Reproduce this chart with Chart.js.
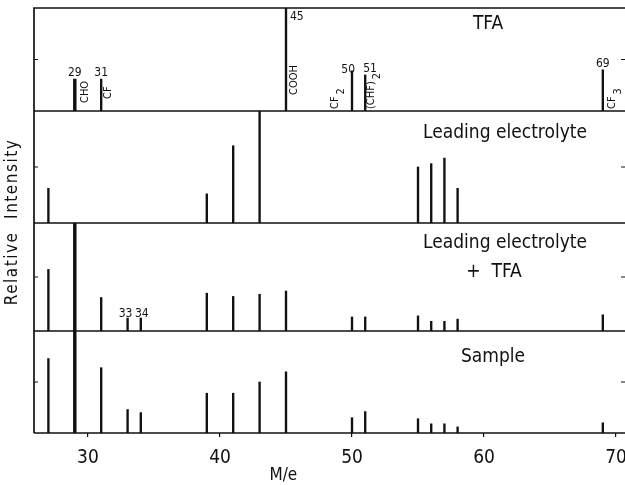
<!DOCTYPE html>
<html>
<head>
<meta charset="utf-8">
<script src="https://cdn.jsdelivr.net/npm/chart.js@4"></script>
<style>
  html, body { margin: 0; padding: 0; background: #fff; }
  #wrap { width: 625px; height: 485px; position: relative; }
</style>
</head>
<body>
<div id="wrap"><canvas id="ms"></canvas></div>
<script>
// m/e positions and relative intensities (0-100) per spectrum
const tfaMz = [29, 31, 45, 50, 51, 69];
const tfaInt = [31, 31, 100, 39, 35, 40];

const leadMz = [27, 39, 41, 43, 55, 56, 57, 58];
const leadInt = [31, 26, 69, 100, 50, 53, 58, 31];

const mixMz = [27, 29, 31, 33, 34, 39, 41, 43, 45, 50, 51, 55, 56, 57, 58, 69];
const mixInt = [57, 100, 31, 12, 12, 35, 32, 34, 37, 13, 13, 14, 9, 9, 11, 15];

const sampleMz = [27, 29, 31, 33, 34, 39, 41, 43, 45, 50, 51, 55, 56, 57, 58, 69];
const sampleInt = [73, 100, 64, 23, 20, 39, 39, 50, 60, 15, 21, 14, 9, 9, 6, 10];

const xTicks = [30, 40, 50, 60, 70];
const panelNames = ['TFA', 'Leading electrolyte', 'Leading electrolyte\n+  TFA', 'Sample'];

const ink = '#111';
const narrow = "'Liberation Sans Narrow', 'DejaVu Sans Condensed', sans-serif";

function peaks(mz, val, keep) {
    const out = [];
    mz.forEach((m, i) => { if (keep(m)) out.push({ x: m, y: val[i] }); });
    return out;
}

function panelSets(mz, val, axis) {
    return [{
        data: peaks(mz, val, m => m !== 29),
        yAxisID: axis,
        backgroundColor: ink,
        barThickness: 1.7,
        grouped: false
    }, {
        data: peaks(mz, val, m => m === 29),
        yAxisID: axis,
        backgroundColor: ink,
        barThickness: 2.8,
        grouped: false
    }];
}

function panelAxis(weight) {
    return {
        type: 'linear',
        position: 'left',
        stack: 'panels',
        stackWeight: weight,
        min: 0,
        max: 100,
        ticks: { display: false },
        grid: { display: false },
        border: { display: false },
        afterFit: s => { s.width = 0; }
    };
}

// frame, panel labels, peak annotations
const annotate = {
    id: 'annotate',
    afterDraw(chart) {
        const ctx = chart.ctx;
        const xs = chart.scales.x;
        const area = chart.chartArea;
        const axes = ['yTfa', 'yLead', 'yMix', 'ySample'].map(id => chart.scales[id]);
        ctx.save();
        ctx.strokeStyle = ink;
        ctx.fillStyle = ink;

        // frame
        ctx.lineWidth = 1.7;
        ctx.beginPath();
        ctx.moveTo(area.right, area.top);
        ctx.lineTo(area.left, area.top);
        ctx.lineTo(area.left, area.bottom);
        axes.forEach(a => {
            const y0 = a.getPixelForValue(0);
            ctx.moveTo(area.left, y0);
            ctx.lineTo(area.right, y0);
        });
        ctx.stroke();

        // mid ticks on both sides
        ctx.lineWidth = 1.2;
        ctx.beginPath();
        axes.forEach(a => {
            const ym = a.getPixelForValue(50);
            ctx.moveTo(area.left, ym);
            ctx.lineTo(area.left + 4, ym);
            ctx.moveTo(area.right, ym);
            ctx.lineTo(area.right - 4, ym);
        });
        ctx.stroke();

        // panel names
        ctx.font = '19px ' + narrow;
        ctx.textAlign = 'center';
        ctx.textBaseline = 'middle';
        const nameX = [488, 505, 505, 493];
        const nameDy = [16, 22, 20, 26];
        axes.forEach((a, i) => {
            const lines = panelNames[i].split('\n');
            lines.forEach((t, k) => {
                const cx = k === 0 ? nameX[i] : 494;
                ctx.fillText(t, cx, a.top + nameDy[i] + k * 29);
            });
        });

        // m/e numbers above TFA peaks
        const yT = axes[0];
        ctx.font = '12px ' + narrow;
        ctx.textBaseline = 'alphabetic';
        tfaMz.forEach((m, i) => {
            const px = xs.getPixelForValue(m);
            const top = yT.getPixelForValue(tfaInt[i]);
            if (m === 45) {
                ctx.textAlign = 'left';
                ctx.fillText(String(m), px + 4, top + 12);
            } else if (m === 50) {
                ctx.textAlign = 'right';
                ctx.fillText(String(m), px + 3, top + 2);
            } else if (m === 51) {
                ctx.textAlign = 'left';
                ctx.fillText(String(m), px - 2, top - 3);
            } else {
                ctx.textAlign = 'center';
                ctx.fillText(String(m), px, top - 3);
            }
        });

        // m/e numbers for the small 33/34 peaks
        const yM = axes[2];
        ctx.textAlign = 'center';
        ctx.fillText('33', xs.getPixelForValue(33) - 2, yM.getPixelForValue(12) - 1);
        ctx.fillText('34', xs.getPixelForValue(34) + 1, yM.getPixelForValue(12) - 1);

        // fragment formulas, rotated
        const base = yT.getPixelForValue(0);
        const frags = [
            { m: 29, dx: 10, main: 'CHO', sub: '', b: 8 },
            { m: 31, dx: 7, main: 'CF', sub: '', b: 12 },
            { m: 45, dx: 8, main: 'COOH', sub: '', b: 16 },
            { m: 50, dx: -17, main: 'CF', sub: '2', b: 2 },
            { m: 51, dx: 6, main: '(CHF)', sub: '2', b: 2 },
            { m: 69, dx: 9, main: 'CF', sub: '3', b: 2 }
        ];
        ctx.font = '11px ' + narrow;
        frags.forEach(f => {
            const px = xs.getPixelForValue(f.m) + f.dx;
            ctx.save();
            ctx.translate(px, base - f.b);
            ctx.rotate(-Math.PI / 2);
            ctx.textAlign = 'left';
            ctx.textBaseline = 'middle';
            ctx.fillText(f.main, 0, 0);
            if (f.sub) {
                const w = ctx.measureText(f.main).width;
                ctx.fillText(f.sub, w + 2, 6);
            }
            ctx.restore();
        });

        // axis titles
        ctx.font = '17px ' + narrow;
        ctx.textAlign = 'center';
        ctx.textBaseline = 'middle';
        ctx.fillText('M/e', xs.getPixelForValue(44.8), 476);
        ctx.save();
        ctx.translate(13, 222);
        ctx.rotate(-Math.PI / 2);
        ctx.letterSpacing = '1.5px';
        ctx.fillText('Relative  Intensity', 0, 0);
        ctx.restore();

        ctx.restore();
    }
};

new Chart(document.getElementById('ms'), {
    type: 'bar',
    data: {
        datasets: [
            ...panelSets(tfaMz, tfaInt, 'yTfa'),
            ...panelSets(leadMz, leadInt, 'yLead'),
            ...panelSets(mixMz, mixInt, 'yMix'),
            ...panelSets(sampleMz, sampleInt, 'ySample')
        ]
    },
    options: {
        responsive: true,
        maintainAspectRatio: false,
        animation: false,
        layout: { padding: { left: 34, top: 8, right: 0, bottom: 0 } },
        plugins: { legend: { display: false }, tooltip: { enabled: false } },
        scales: {
            x: {
                type: 'linear',
                offset: false,
                min: 25.91,
                max: 70.68,
                afterBuildTicks: s => { s.ticks = xTicks.map(v => ({ value: v })); },
                ticks: {
                    color: ink,
                    font: { size: 19, family: narrow },
                    padding: 10,
                    maxRotation: 0
                },
                grid: {
                    offset: false,
                    drawOnChartArea: false,
                    drawTicks: true,
                    tickLength: 4,
                    color: ink,
                    lineWidth: 1.2
                },
                border: { display: false },
                afterFit: s => {
                    s.height = 52;
                    s.paddingLeft = 0;
                    s.paddingRight = 0;
                }
            },
            ySample: panelAxis(102),
            yMix: panelAxis(108),
            yLead: panelAxis(112),
            yTfa: panelAxis(103)
        }
    },
    plugins: [annotate]
});
</script>
</body>
</html>
